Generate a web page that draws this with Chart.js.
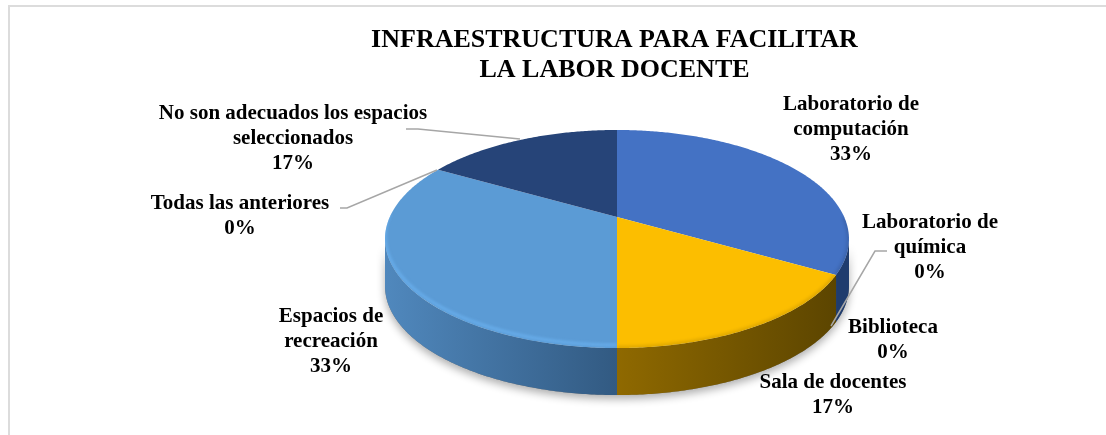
<!DOCTYPE html>
<html>
<head>
<meta charset="utf-8">
<title>Infraestructura para facilitar la labor docente</title>
<script src="https://cdn.jsdelivr.net/npm/chart.js@4/dist/chart.umd.js"></script>
<style>
    html, body { margin: 0; padding: 0; background: #fff; }
    canvas { display: block; }
</style>
</head>
<body>
<canvas id="pieChart" width="1106" height="435"></canvas>
<script>
const categories = [
    ['Laboratorio de', 'computación'],
    ['Laboratorio de', 'química'],
    ['Biblioteca'],
    ['Sala de docentes'],
    ['Espacios de', 'recreación'],
    ['Todas las anteriores'],
    ['No son adecuados los espacios', 'seleccionados']
];
const values = [33.3, 0, 0, 16.7, 33.3, 0, 16.7];
const titleLines = ['INFRAESTRUCTURA PARA FACILITAR', 'LA LABOR DOCENTE'];

const topColors = ['#4472c4', '#ed7d31', '#a5a5a5', '#fcbe00', '#5b9bd5', '#70ad47', '#264478'];
// side wall colours, left and right end of the gradient
const wallColors = [
    ['#1f3c6e', '#1f3c6e'], null, null,
    ['#8f6900', '#5c4500'],
    ['#5088bd', '#325a82'],
    null,
    ['#1a3056', '#1a3056']
];

// centre of each data label (first line y, line height 25)
const labelPos = [
    [851, 105], [930, 223], [893, 328], [833, 383], [331, 317], [240, 204], [293, 114]
];
const leaderLines = [
    [[406, 129], [418, 129], [520, 139]],
    [[340, 208], [347, 208], [437, 170]],
    [[887, 251], [875, 251], [831, 326]]
];

// perspective of the pie plate
const CX = 617, CY = 217, KX = 227.2, KY = 104.6, P = 0.202, DEPTH = 47;

function project(a) {
    const x = Math.cos(a), y = Math.sin(a), w = 1 - P * y;
    return [CX + KX * x / w, CY + KY * y / w];
}

function rimPath(ctx, a0, a1, dy, first) {
    const n = Math.max(2, Math.ceil(Math.abs(a1 - a0) / 0.01));
    for (let i = 0; i <= n; i++) {
        const p = project(a0 + (a1 - a0) * i / n);
        if (first && i === 0) ctx.moveTo(p[0], p[1] + dy);
        else ctx.lineTo(p[0], p[1] + dy);
    }
}

const pie3d = {
    id: 'pie3d',
    beforeDatasetDraw(chart) {
        const ctx = chart.ctx;
        const arcs = chart.getDatasetMeta(0).data;
        const edge = Math.asin(P);          // angle where the rim turns away

        ctx.save();

        // soft shadow under the pie
        ctx.save();
        ctx.shadowColor = 'rgba(0,0,0,0.32)';
        ctx.shadowBlur = 9;
        ctx.shadowOffsetY = 4;
        ctx.fillStyle = '#777';
        ctx.beginPath();
        rimPath(ctx, edge, Math.PI - edge, DEPTH, true);
        rimPath(ctx, Math.PI - edge, edge, 0, false);
        ctx.closePath();
        ctx.fill();
        ctx.restore();

        // side walls
        arcs.forEach((arc, i) => {
            if (!wallColors[i] || arc.endAngle - arc.startAngle < 1e-6) return;
            const a0 = Math.max(arc.startAngle, edge);
            const a1 = Math.min(arc.endAngle, Math.PI - edge);
            if (a1 <= a0) return;
            const xs = [project(a0)[0], project(a1)[0]];
            const grad = ctx.createLinearGradient(Math.min(...xs), 0, Math.max(...xs), 0);
            grad.addColorStop(0, wallColors[i][0]);
            grad.addColorStop(1, wallColors[i][1]);
            ctx.fillStyle = grad;
            ctx.beginPath();
            rimPath(ctx, a0, a1, 0, true);
            rimPath(ctx, a1, a0, DEPTH, false);
            ctx.closePath();
            ctx.fill();
        });

        // top face
        arcs.forEach((arc, i) => {
            if (arc.endAngle - arc.startAngle < 1e-6) return;
            ctx.fillStyle = arc.options.backgroundColor;
            ctx.beginPath();
            ctx.moveTo(CX, CY);
            rimPath(ctx, arc.startAngle, arc.endAngle, 0, false);
            ctx.closePath();
            ctx.fill();

            // bevel along the front of the rim
            const a0 = Math.max(arc.startAngle, 0);
            const a1 = Math.min(arc.endAngle, Math.PI);
            ctx.save();
            ctx.clip();
            ctx.filter = 'blur(1.5px)';
            if (a1 > a0) {
                ctx.strokeStyle = i === 4 ? '#6ab0ee' : 'rgba(0,0,0,0.10)';
                ctx.lineWidth = i === 4 ? 2.5 : 5;
                ctx.beginPath();
                rimPath(ctx, a0, a1, i === 4 ? -3 : 0, true);
                ctx.stroke();
            }
            ctx.restore();
        });

        ctx.restore();
        return false;
    },
    afterDatasetsDraw(chart) {
        const ctx = chart.ctx;
        const vals = chart.data.datasets[0].data;

        ctx.save();
        ctx.strokeStyle = '#a6a6a6';
        ctx.lineWidth = 1.5;
        leaderLines.forEach(pts => {
            ctx.beginPath();
            pts.forEach((p, i) => i ? ctx.lineTo(p[0], p[1]) : ctx.moveTo(p[0], p[1]));
            ctx.stroke();
        });

        ctx.fillStyle = '#000';
        ctx.font = 'bold 21px "Liberation Serif"';
        ctx.textAlign = 'center';
        ctx.textBaseline = 'middle';
        chart.data.labels.forEach((lines, i) => {
            const all = lines.concat(Math.round(vals[i]) + '%');
            all.forEach((t, j) => ctx.fillText(t, labelPos[i][0], labelPos[i][1] + j * 24.8));
        });
        ctx.restore();
    }
};

// grey frame of the pasted picture, only top and left are visible
const frame = {
    id: 'frame',
    beforeDraw(chart) {
        const ctx = chart.ctx;
        ctx.save();
        ctx.fillStyle = '#dcdcdc';
        ctx.fillRect(8, 5, 1098, 2);
        ctx.fillRect(8, 5, 2, 430);
        ctx.restore();
    }
};

new Chart(document.getElementById('pieChart'), {
    type: 'pie',
    data: {
        labels: categories,
        datasets: [{ data: values, backgroundColor: topColors, borderWidth: 0 }]
    },
    options: {
        responsive: false,
        animation: false,
        layout: { padding: { left: 123 } },
        plugins: {
            legend: { display: false },
            tooltip: { enabled: false },
            title: {
                display: true,
                text: titleLines,
                color: '#000',
                font: { family: '"Liberation Serif"', size: 26, weight: 'bold', lineHeight: 1.16 },
                padding: { top: 25, bottom: 10 }
            }
        }
    },
    plugins: [frame, pie3d]
});
</script>
</body>
</html>
